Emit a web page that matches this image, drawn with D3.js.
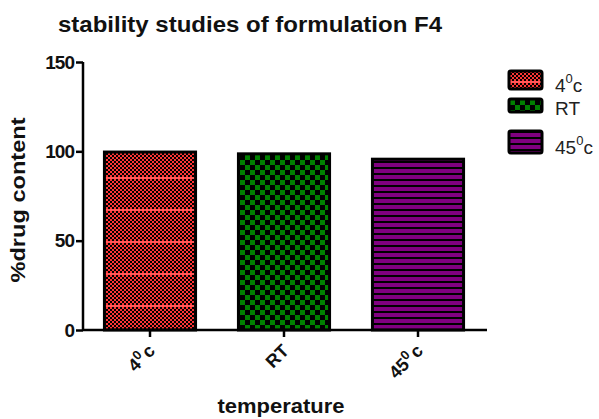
<!DOCTYPE html>
<html>
<head>
<meta charset="utf-8">
<script src="https://cdn.jsdelivr.net/npm/d3@7"></script>
<style>
  body { margin: 0; background: #fff; }
  svg { font-family: "Liberation Sans", Arial, sans-serif; }
</style>
</head>
<body>
<div id="chart"></div>
<script>
// data
const categories = ['4', 'RT', '45'];
const superDeg = [true, false, true];   // label gets a superscript 0 and a "c"
const drugContent = [99.6, 98.6, 95.6];
const yTicks = [0, 50, 100, 150];
const legendLabels = ['4', 'RT', '45'];

const W = 599, H = 419;
const margin = {top: 62, right: 114, bottom: 89, left: 83};

let svg = d3.select('#chart').append('svg').attr('width', W).attr('height', H);
let defs = svg.append('defs');

// red checker with lighter red lines
let pRed = defs.append('pattern').attr('id', 'pRed').attr('patternUnits', 'userSpaceOnUse')
	.attr('width', 4).attr('height', 32).attr('y', 178 - 1);
pRed.append('rect').attr('width', 4).attr('height', 32).attr('fill', '#000');
for(let j = 0; j < 16; j++){
	pRed.append('rect').attr('x', (j % 2) * 2).attr('y', j * 2).attr('width', 2).attr('height', 2).attr('fill', '#ff3535');
}
pRed.append('rect').attr('y', 0).attr('width', 4).attr('height', 2).attr('fill', '#ff5a5a');

// green checker
let pGreen = defs.append('pattern').attr('id', 'pGreen').attr('patternUnits', 'userSpaceOnUse')
	.attr('width', 10).attr('height', 10);
pGreen.append('rect').attr('width', 10).attr('height', 10).attr('fill', '#000');
pGreen.append('rect').attr('width', 5).attr('height', 5).attr('fill', '#008000');
pGreen.append('rect').attr('x', 5).attr('y', 5).attr('width', 5).attr('height', 5).attr('fill', '#008000');

// purple stripes
let pPurple = defs.append('pattern').attr('id', 'pPurple').attr('patternUnits', 'userSpaceOnUse')
	.attr('width', 6).attr('height', 6);
pPurple.append('rect').attr('width', 6).attr('height', 6).attr('fill', '#000');
pPurple.append('rect').attr('y', 1).attr('width', 6).attr('height', 4).attr('fill', '#800080');

const fills = ['url(#pRed)', 'url(#pGreen)', 'url(#pPurple)'];

let x = d3.scaleBand().domain(categories).range([margin.left, W - margin.right]).paddingInner(0.32).paddingOuter(0.16);
let y = d3.scaleLinear().domain([0, 150]).range([H - margin.bottom, margin.top]);

// bars
svg.selectAll('rect.bar').data(categories).enter().append('rect')
	.attr('class', 'bar')
	.attr('x', d => x(d))
	.attr('y', (d, i) => y(drugContent[i]))
	.attr('width', x.bandwidth())
	.attr('height', (d, i) => y(0) - y(drugContent[i]))
	.attr('fill', (d, i) => fills[i])
	.attr('stroke', '#000')
	.attr('stroke-width', 3);

// y axis
let yAxis = svg.append('g').attr('transform', 'translate(' + margin.left + ',0)')
	.call(d3.axisLeft(y).tickValues(yTicks).tickSize(7).tickPadding(2));
yAxis.select('.domain').attr('stroke-width', 2.5).attr('d', 'M0,' + y(150) + 'V' + y(0));
yAxis.selectAll('.tick line').attr('stroke-width', 2.5);
yAxis.selectAll('.tick text').attr('font-size', 19).attr('font-weight', 'bold')
	.attr('font-family', '"Liberation Sans", Arial, sans-serif').attr('fill', '#111')
	.attr('letter-spacing', -1);

// x axis
let xAxis = svg.append('g').attr('transform', 'translate(0,' + y(0) + ')')
	.call(d3.axisBottom(x).tickSize(7).tickFormat(''));
xAxis.select('.domain').attr('stroke-width', 2.5).attr('d', 'M' + margin.left + ',0H' + (W - margin.right + 2));
xAxis.selectAll('.tick line').attr('stroke-width', 2.5);

// rotated category labels
categories.forEach(function(c, i){
	let t = svg.append('text')
		.attr('transform', 'translate(' + (x(c) + x.bandwidth()/2 + 6) + ',' + (y(0) + 22) + ') rotate(-45)')
		.attr('text-anchor', 'end')
		.attr('font-size', 18)
		.attr('font-weight', 'bold')
		.attr('fill', '#111');
	t.append('tspan').text(c);
	if(superDeg[i]){
		t.append('tspan').attr('dy', -7).attr('font-size', 13).text('0');
		t.append('tspan').attr('dx', 2).attr('dy', 7).text('c');
	}
});

// titles
svg.append('text').attr('x', 250).attr('y', 32).attr('text-anchor', 'middle')
	.attr('font-size', 22).attr('font-weight', 'bold').attr('fill', '#111')
	.attr('textLength', 384).attr('lengthAdjust', 'spacingAndGlyphs')
	.text('stability studies of formulation F4');
svg.append('text').attr('x', 281).attr('y', 413).attr('text-anchor', 'middle')
	.attr('font-size', 21).attr('font-weight', 'bold').attr('fill', '#111')
	.attr('textLength', 127).attr('lengthAdjust', 'spacingAndGlyphs')
	.text('temperature');
svg.append('text').attr('transform', 'translate(25,' + 200 + ') rotate(-90)')
	.attr('text-anchor', 'middle').attr('font-size', 21).attr('font-weight', 'bold').attr('fill', '#111')
	.attr('textLength', 165).attr('lengthAdjust', 'spacingAndGlyphs')
	.text('%drug content');

// legend
const legendBoxes = [{y: 71, h: 18, ty: 92}, {y: 99, h: 13, ty: 115}, {y: 131, h: 22, ty: 154}];
legendLabels.forEach(function(l, i){
	let g = svg.append('g');
	g.append('rect').attr('x', 509).attr('y', legendBoxes[i].y).attr('width', 33).attr('height', legendBoxes[i].h)
		.attr('rx', 2).attr('fill', fills[i]).attr('stroke', '#000').attr('stroke-width', 3);
	let t = g.append('text').attr('x', 555).attr('y', legendBoxes[i].ty)
		.attr('font-size', 19).attr('fill', '#222');
	t.append('tspan').text(l);
	if(superDeg[i]){
		t.append('tspan').attr('dy', -9).attr('font-size', 13).text('0');
		t.append('tspan').attr('dy', 9).text('c');
	}
});
</script>
</body>
</html>
